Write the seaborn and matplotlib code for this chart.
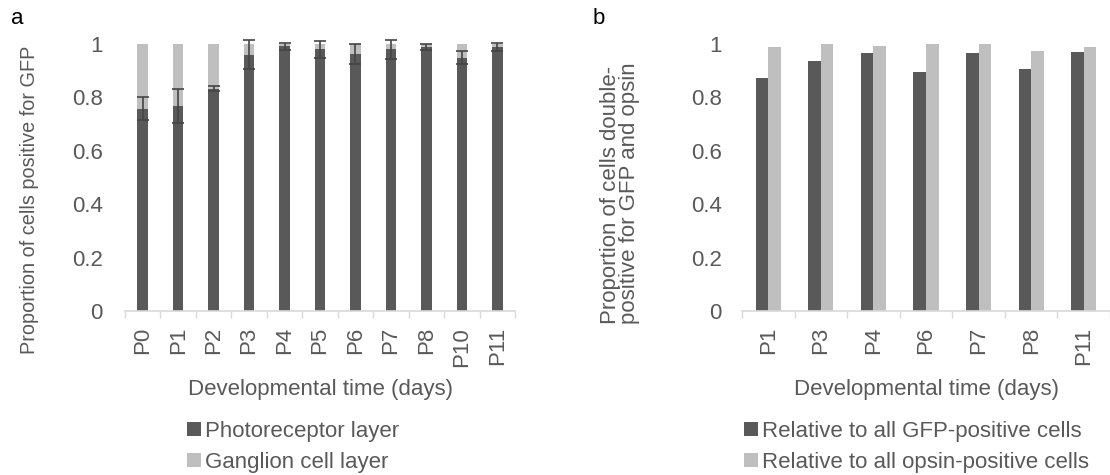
import numpy as np
import pandas as pd
import matplotlib
matplotlib.use("Agg")
import matplotlib.pyplot as plt
from matplotlib.ticker import FixedLocator
import seaborn as sns

# ---------------- data ----------------
stages_a = ['P0', 'P1', 'P2', 'P3', 'P4', 'P5', 'P6', 'P7', 'P8', 'P10', 'P11']
photoreceptor = [0.757, 0.768, 0.833, 0.960, 0.992, 0.980, 0.962, 0.980, 0.988, 0.949, 0.988]
ganglion = [0.243, 0.232, 0.167, 0.040, 0.008, 0.020, 0.038, 0.020, 0.012, 0.051, 0.012]
photo_err = [0.043, 0.064, 0.008, 0.055, 0.013, 0.033, 0.037, 0.035, 0.011, 0.024, 0.015]

stages_b = ['P1', 'P3', 'P4', 'P6', 'P7', 'P8', 'P11']
rel_gfp = [0.872, 0.935, 0.965, 0.896, 0.965, 0.905, 0.970]
rel_opsin = [0.988, 1.0, 0.992, 1.0, 1.0, 0.975, 0.990]

y_ticks = [0, 0.2, 0.4, 0.6, 0.8, 1.0]
y_ticklabels = ['0', '0.2', '0.4', '0.6', '0.8', '1']

legend_a = ['Photoreceptor layer', 'Ganglion cell layer']
legend_b = ['Relative to all GFP-positive cells', 'Relative to all opsin-positive cells']

# ---------------- style ----------------
DARK = '#595959'
LIGHT = '#BFBFBF'
ERR = '#454545'
TXT = '#595959'
AXC = '#D9D9D9'
FS = 16

sns.set_theme(style='white')
plt.rcParams['font.family'] = ['Liberation Sans', 'DejaVu Sans']

W, H = 1110, 475
fig = plt.figure(figsize=(W / 100, H / 100), dpi=100)


def px_axes(l, t, r, b):
    return fig.add_axes([l / W, 1 - b / H, (r - l) / W, (b - t) / H])


axa = px_axes(125, 44, 515, 311)
axb = px_axes(742, 44, 1110, 311)

# ---------------- panel a ----------------
df_a = pd.DataFrame({'stage': stages_a, 'photo': photoreceptor, 'ganglion': ganglion})
df_a['total'] = df_a['photo'] + df_a['ganglion']

sns.barplot(data=df_a, x='stage', y='total', order=stages_a, color=LIGHT, saturation=1,
            width=0.3, errorbar=None, linewidth=0, ax=axa, label=legend_a[1])
sns.barplot(data=df_a, x='stage', y='photo', order=stages_a, color=DARK, saturation=1,
            width=0.3, errorbar=None, linewidth=0, ax=axa, label=legend_a[0])
xa = np.arange(len(stages_a))
eb = axa.errorbar(xa, df_a['photo'], yerr=photo_err, fmt='none', ecolor=ERR,
                  elinewidth=1.2, capsize=4.6, capthick=1.2, zorder=5)
for art in list(eb[1]) + list(eb[2]):
    art.set_clip_on(False)

# ---------------- panel b ----------------
df_b = pd.DataFrame({'stage': stages_b, legend_b[0]: rel_gfp, legend_b[1]: rel_opsin})
df_b = df_b.melt(id_vars='stage', var_name='series', value_name='value')
sns.barplot(data=df_b, x='stage', y='value', hue='series', order=stages_b, hue_order=legend_b,
            palette=[DARK, LIGHT], saturation=1, width=0.48, gap=0, errorbar=None,
            linewidth=0, ax=axb)


def style(ax, n, ypad):
    ax.set_ylim(0, 1)
    ax.set_xlim(-0.5, n - 0.5)
    ax.set_yticks(y_ticks)
    ax.set_yticklabels(y_ticklabels)
    ax.tick_params(axis='y', left=False, length=0, pad=ypad, labelsize=FS, labelcolor=TXT)
    ax.tick_params(axis='x', which='major', bottom=False, length=0, pad=11.5, labelsize=FS,
                   labelcolor=TXT, labelrotation=90)
    ax.xaxis.set_minor_locator(FixedLocator(np.arange(-0.5, n, 1.0)))
    ax.tick_params(axis='x', which='minor', bottom=True, length=5, width=1, color=AXC,
                   direction='out')
    for s in ['left', 'top', 'right']:
        ax.spines[s].set_visible(False)
    ax.spines['bottom'].set_color(AXC)
    ax.spines['bottom'].set_linewidth(1.2)
    ax.grid(False)
    ax.set_xlabel('Developmental time (days)', fontsize=FS, color=TXT)
    ax.xaxis.label.set_va('center')
    ax.xaxis.set_label_coords(0.5, -(389 - 311) / 267)
    leg = ax.get_legend()
    if leg is not None:
        leg.remove()


style(axa, len(stages_a), 16)
style(axb, len(stages_b), 14.5)

axa.set_ylabel('Proportion of cells positive for GFP', fontsize=14.3, color=TXT)
axa.yaxis.label.set_va('center')
axa.yaxis.set_label_coords((30 - 125) / 390, (311 - 200) / 267)

axb.set_ylabel('Proportion of cells double-\npositive for GFP and opsin', fontsize=FS,
               color=TXT, multialignment='left', linespacing=0.86)
axb.yaxis.label.set_va('center')
axb.yaxis.set_label_coords((620 - 742) / 368, (311 - 193) / 267)

# ---------------- legends ----------------
ha, la = axa.get_legend_handles_labels()
hmap = dict(zip(la, ha))
fig.legend([hmap[l] for l in legend_a], legend_a, loc='upper left',
           bbox_to_anchor=(187 / W, 1 - 421 / H), frameon=False, fontsize=FS,
           labelcolor=TXT, handlelength=0.62, handleheight=0.62, handletextpad=0.2,
           labelspacing=0.45, borderpad=0, borderaxespad=0)

hb, lb = axb.get_legend_handles_labels()
hmap_b = dict(zip(lb, hb))
fig.legend([hmap_b[l] for l in legend_b], legend_b, loc='upper left',
           bbox_to_anchor=(744 / W, 1 - 421 / H), frameon=False, fontsize=FS,
           labelcolor=TXT, handlelength=0.62, handleheight=0.62, handletextpad=0.2,
           labelspacing=0.45, borderpad=0, borderaxespad=0)

# ---------------- panel letters ----------------
fig.text(11 / W, 1 - 18 / H, 'a', fontsize=FS, color='black', va='center', ha='left')
fig.text(593 / W, 1 - 18 / H, 'b', fontsize=FS, color='black', va='center', ha='left')

fig.savefig('out.png', dpi=100)
